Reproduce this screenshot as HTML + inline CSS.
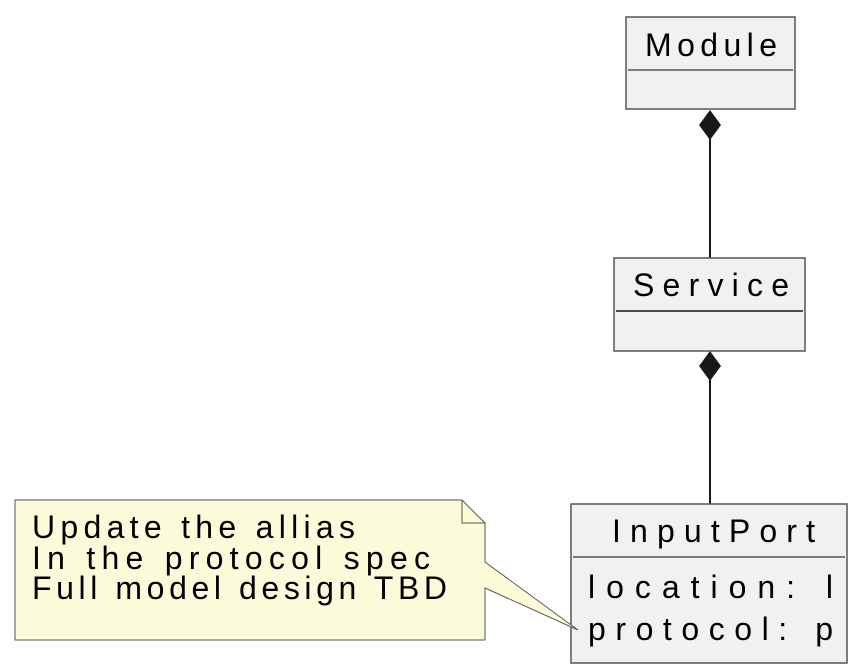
<!DOCTYPE html>
<html><head><meta charset="utf-8"><style>html,body{margin:0;padding:0;background:#fff;}svg{display:block}</style></head>
<body>
<svg width="853" height="669" viewBox="0 0 853 669" xmlns="http://www.w3.org/2000/svg" font-family="Liberation Sans, sans-serif" font-size="32" fill="#000">
<!-- connectors -->
<line x1="710" y1="138" x2="710" y2="258" stroke="#181818" stroke-width="2"/>
<polygon points="710,110 721,125 710,140 699,125" fill="#181818"/>
<line x1="710" y1="380" x2="710" y2="504" stroke="#181818" stroke-width="2"/>
<polygon points="710,351 721,366 710,381 699,366" fill="#181818"/>
<!-- Module -->
<rect x="626" y="17" width="169" height="92" fill="#f1f1f1" stroke="#555" stroke-width="1.5"/>
<line x1="628" y1="70" x2="793" y2="70" stroke="#555" stroke-width="1.5"/>
<text x="645" y="56" textLength="132" lengthAdjust="spacing">Module</text>
<!-- Service -->
<rect x="614" y="258" width="191" height="93" fill="#f1f1f1" stroke="#555" stroke-width="1.5"/>
<line x1="616" y1="311" x2="803" y2="311" stroke="#181818" stroke-width="1.5"/>
<text x="633" y="296" textLength="156" lengthAdjust="spacing">Service</text>
<!-- InputPort -->
<rect x="571" y="504" width="276" height="159" fill="#f1f1f1" stroke="#555" stroke-width="1.5"/>
<line x1="573" y1="557" x2="845" y2="557" stroke="#555" stroke-width="1.5"/>
<text x="612" y="542" textLength="203" lengthAdjust="spacing">InputPort</text>
<text x="588" y="598" textLength="245" lengthAdjust="spacing">location: l</text>
<text x="588" y="640" textLength="245" lengthAdjust="spacing">protocol: p</text>
<!-- Note -->
<polygon points="15,500 462,500 485,523 485,562 578,630 485,588 485,640 15,640" fill="#fbfbd9" stroke="#555" stroke-width="1"/>
<polyline points="462,500 462,523 485,523" fill="none" stroke="#555" stroke-width="1"/>
<text x="32" y="538" textLength="323" lengthAdjust="spacing">Update the allias</text>
<text x="32" y="569" textLength="398" lengthAdjust="spacing">In the protocol spec</text>
<text x="32" y="599" textLength="415" lengthAdjust="spacing">Full model design TBD</text>
</svg>
</body></html>
